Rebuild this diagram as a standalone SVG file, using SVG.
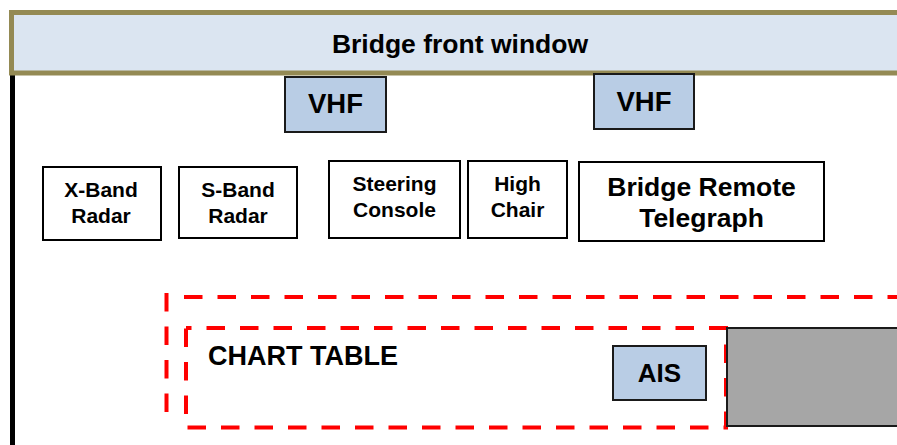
<svg xmlns="http://www.w3.org/2000/svg" width="897" height="445" viewBox="0 0 897 445">
<style>
text{font-family:"Liberation Sans",Arial,sans-serif;font-weight:bold;fill:#000;text-anchor:middle}
.box{fill:#fff;stroke:#000;stroke-width:2}
.blue{fill:#B9CDE5;stroke:#1a1a1a;stroke-width:2}
.red{fill:none;stroke:#FF0000;stroke-width:4;stroke-dasharray:18.5 15}
.s20{font-size:21px}
.s26{font-size:26.5px}
.vhf{font-size:27.5px}
</style>
<rect x="0" y="0" width="897" height="445" fill="#fff"/>
<rect x="10" y="75" width="5" height="370" fill="#000"/>
<g id="window">
<rect x="11.5" y="12.5" width="900" height="60.5" fill="#DBE5F1" stroke="#948A54" stroke-width="5"/>
<text x="460" y="53" style="font-size:26.5px">Bridge front window</text>
</g>
<g id="vhf1">
<rect class="blue" x="285" y="77" width="101" height="55"/>
<text class="vhf" x="335.5" y="113">VHF</text>
</g>
<g id="vhf2">
<rect class="blue" x="594" y="74" width="100" height="55"/>
<text class="vhf" x="644" y="111">VHF</text>
</g>
<g id="xband">
<rect class="box" x="43" y="167" width="118" height="73"/>
<text class="s20" x="101" y="197">X-Band</text>
<text class="s20" x="101" y="223">Radar</text>
</g>
<g id="sband">
<rect class="box" x="179" y="167" width="118" height="71"/>
<text class="s20" x="238" y="197">S-Band</text>
<text class="s20" x="238" y="223">Radar</text>
</g>
<g id="steering">
<rect class="box" x="329" y="161" width="131" height="77"/>
<text class="s20" x="394.5" y="191">Steering</text>
<text class="s20" x="394.5" y="217">Console</text>
</g>
<g id="highchair">
<rect class="box" x="468" y="161" width="99" height="77"/>
<text class="s20" x="517.5" y="191">High</text>
<text class="s20" x="517.5" y="217">Chair</text>
</g>
<g id="telegraph">
<rect class="box" x="579" y="162" width="245" height="79"/>
<text class="s26" x="701.5" y="196">Bridge Remote</text>
<text class="s26" x="701.5" y="227">Telegraph</text>
</g>
<g id="outer-zone">
<line class="red" x1="166.5" y1="293" x2="166.5" y2="413"/>
<line class="red" x1="184" y1="297" x2="900" y2="297"/>
</g>
<g id="chart-table">
<rect class="red" x="186" y="328" width="540" height="99.5" stroke-dashoffset="13"/>
<text x="208" y="365" style="text-anchor:start;font-size:27px">CHART TABLE</text>
</g>
<g id="gray-block">
<rect x="727" y="328" width="180" height="98" fill="#A6A6A6" stroke="#1a1a1a" stroke-width="2"/>
</g>
<g id="ais">
<rect class="blue" x="613" y="346" width="93" height="54"/>
<text x="659.5" y="382" style="font-size:26px">AIS</text>
</g>
<g id="connectors"></g>
</svg>
